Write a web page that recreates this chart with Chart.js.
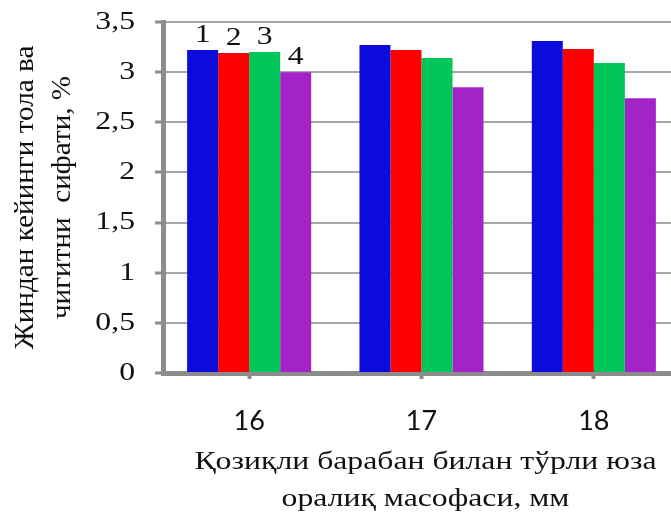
<!DOCTYPE html>
<html>
<head>
<meta charset="utf-8">
<script src="https://cdn.jsdelivr.net/npm/chart.js@4/dist/chart.umd.min.js"></script>
<style>
  html, body { margin: 0; padding: 0; background: #ffffff; overflow: hidden; }
  #wrap { width: 671px; height: 512px; overflow: hidden; }
  canvas { display: block; }
</style>
</head>
<body>
<div id="wrap"><canvas id="c" width="700" height="512"></canvas></div>
<script>
// Spacing between drum and grid (mm)
const categories = ['16', '17', '18'];

// Residual fibre / seed quality, % — one series per variant 1..4
const series1 = [3.22, 3.27, 3.31];
const series2 = [3.19, 3.22, 3.23];
const series3 = [3.20, 3.14, 3.09];
const series4 = [3.00, 2.85, 2.74];

const seriesNames = ['1', '2', '3', '4'];
const seriesColors = ['#0b0bdc', '#ff0000', '#00c65a', '#a323c9'];

const yTickValues = [0, 0.5, 1, 1.5, 2, 2.5, 3, 3.5];
const yTickLabels = ['0', '0,5', '1', '1,5', '2', '2,5', '3', '3,5'];

const yTitle = ['Жиндан кейинги тола ва', 'чигитни  сифати, %'];
const xTitle = ['Қозиқли барабан билан тўрли юза', 'оралиқ масофаси, мм'];

const serif = "'Liberation Serif', 'Times New Roman', serif";
const sans = "Lato, 'Open Sans', sans-serif";
const textColor = '#111111';
const WIDE = 1.22;   // the serif lettering is set wide

// Draws a line of text horizontally widened by factor sx
function wideText(ctx, text, x, y, sx, align) {
  ctx.save();
  ctx.translate(x, y);
  ctx.scale(sx, 1);
  ctx.textAlign = align;
  ctx.fillText(text, 0, 0);
  ctx.restore();
}

// Serif lettering: y tick labels, axis titles and the variant numbers
const letteringPlugin = {
  id: 'lettering',
  afterDraw(chart) {
    const ctx = chart.ctx;
    const area = chart.chartArea;
    const yScale = chart.scales.y;
    ctx.save();
    ctx.fillStyle = textColor;
    ctx.textBaseline = 'middle';

    // y tick labels
    ctx.font = '26px ' + serif;
    yTickValues.forEach((v, i) => {
      wideText(ctx, yTickLabels[i], area.left - 28, yScale.getPixelForValue(v), WIDE, 'right');
    });

    // x axis title (two lines)
    const cx = (area.left + area.right) / 2 + 4;
    ctx.font = '26px ' + serif;
    wideText(ctx, xTitle[0], cx, area.bottom + 89, WIDE, 'center');
    wideText(ctx, xTitle[1], cx, area.bottom + 126, WIDE, 'center');

    // y axis title (two rotated lines)
    const cy = (area.top + area.bottom) / 2;
    ctx.font = '27px ' + serif;
    [26, 63].forEach((x, i) => {
      ctx.save();
      ctx.translate(x, cy);
      ctx.rotate(-Math.PI / 2);
      ctx.scale(1.08, 1);
      ctx.textAlign = 'center';
      ctx.fillText(yTitle[i], 0, 0);
      ctx.restore();
    });

    // variant numbers above the first group
    ctx.font = '26px ' + serif;
    ctx.textBaseline = 'alphabetic';
    chart.data.datasets.forEach((ds, i) => {
      const bar = chart.getDatasetMeta(i).data[0];
      wideText(ctx, seriesNames[i], bar.x, bar.y - 8, WIDE, 'center');
    });
    ctx.restore();
  }
};

const seriesData = [series1, series2, series3, series4];

new Chart(document.getElementById('c'), {
  type: 'bar',
  data: {
    labels: categories,
    datasets: seriesData.map((d, i) => ({
      label: seriesNames[i],
      data: d,
      backgroundColor: seriesColors[i],
      borderWidth: 0,
      barPercentage: 1,
      categoryPercentage: 0.72
    }))
  },
  options: {
    responsive: false,
    animation: false,
    devicePixelRatio: 1,
    layout: { padding: { top: 22, right: 20, bottom: 0, left: 0 } },
    plugins: {
      legend: { display: false },
      tooltip: { enabled: false }
    },
    scales: {
      x: {
        grid: {
          display: true,
          drawOnChartArea: false,
          drawTicks: true,
          offset: false,
          tickLength: 6,
          tickWidth: 4,
          tickColor: '#8c8c8c'
        },
        border: { display: true, color: '#8c8c8c', width: 5 },
        ticks: {
          font: { family: sans, size: 27 },
          color: textColor,
          padding: 26,
          maxRotation: 0
        },
        afterFit(scale) { scale.height = 139; }
      },
      y: {
        min: 0,
        max: 3.5,
        ticks: { display: false, stepSize: 0.5 },
        grid: {
          color: '#a6a6a6',
          lineWidth: 2,
          drawTicks: true,
          tickLength: 8,
          tickWidth: 3,
          tickColor: '#8c8c8c'
        },
        border: { display: true, color: '#8c8c8c', width: 5 },
        afterFit(scale) { scale.width = 163; }
      }
    }
  },
  plugins: [letteringPlugin]
});
</script>
</body>
</html>
